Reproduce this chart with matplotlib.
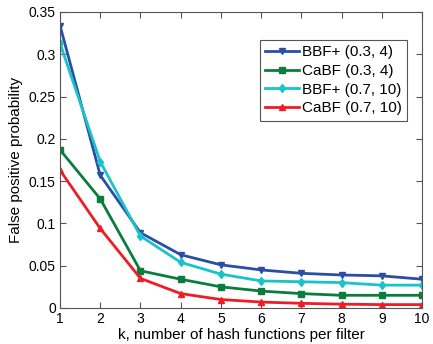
import matplotlib
matplotlib.use("Agg")
import matplotlib.pyplot as plt
from matplotlib.ticker import FuncFormatter

plt.rcParams["font.family"] = ["Liberation Sans", "DejaVu Sans"]

k = [1, 2, 3, 4, 5, 6, 7, 8, 9, 10]
bbf_03_4 = [0.334, 0.157, 0.089, 0.063, 0.051, 0.045, 0.041, 0.039, 0.038, 0.034]
cabf_03_4 = [0.187, 0.129, 0.044, 0.034, 0.025, 0.020, 0.017, 0.015, 0.015, 0.015]
bbf_07_10 = [0.313, 0.173, 0.085, 0.054, 0.040, 0.032, 0.031, 0.030, 0.027, 0.027]
cabf_07_10 = [0.163, 0.094, 0.035, 0.017, 0.010, 0.007, 0.0055, 0.0045, 0.004, 0.004]

series = [
    ("BBF+ (0.3, 4)", bbf_03_4, "#2a4ea6", "v"),
    ("CaBF (0.3, 4)", cabf_03_4, "#0a7d3c", "s"),
    ("BBF+ (0.7, 10)", bbf_07_10, "#19c3c9", "d"),
    ("CaBF (0.7, 10)", cabf_07_10, "#ee1d25", "^"),
]

fig = plt.figure(figsize=(4.33, 3.44), dpi=100)
ax = fig.add_axes([0.1386, 0.1047, 0.836, 0.8605])

for label, vals, color, marker in series:
    ax.plot(k, vals, color=color, marker=marker, markersize=4.5, linewidth=2,
            label=label)

ax.set_xlim(1, 10)
ax.set_ylim(0, 0.35)
ax.set_xticks(k)
ax.set_yticks([0, 0.05, 0.1, 0.15, 0.2, 0.25, 0.3, 0.35])
ax.yaxis.set_major_formatter(FuncFormatter(lambda v, p: "%g" % round(v, 2)))
ax.tick_params(direction="in", top=True, right=True, labelsize=10,
               color="#555555", length=4, pad=3)
for s in ax.spines.values():
    s.set_color("#555555")
    s.set_linewidth(0.8)

ax.set_xlabel("k, number of hash functions per filter", fontsize=11, labelpad=1)
ax.set_ylabel("False positive probability", fontsize=11, labelpad=4)

leg = ax.legend(loc="upper right", bbox_to_anchor=(0.9586, 0.905), fontsize=11,
                fancybox=False, framealpha=1, edgecolor="#555555",
                handlelength=2.2, handletextpad=0.2, borderpad=0.35,
                labelspacing=0.3, borderaxespad=0)
leg.get_frame().set_linewidth(0.8)

fig.savefig("out.png", dpi=100)
